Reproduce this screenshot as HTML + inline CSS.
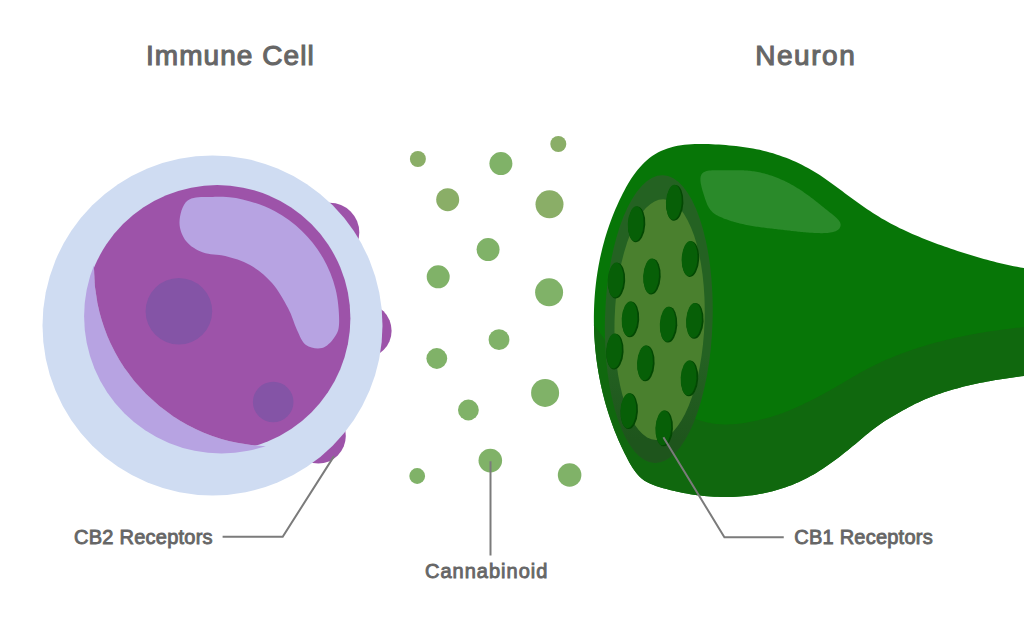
<!DOCTYPE html>
<html><head><meta charset="utf-8"><style>
html,body{margin:0;padding:0;background:#fff;width:1024px;height:640px;overflow:hidden}
svg{display:block}
text{font-family:"Liberation Sans",sans-serif;font-weight:normal;fill:#666666;stroke:#666666}
</style></head><body>
<svg width="1024" height="640" viewBox="0 0 1024 640">
<circle cx="329.7" cy="232.4" r="29.6" fill="#9d53a9"/>
<circle cx="364.2" cy="330.7" r="27.4" fill="#9d53a9"/>
<circle cx="318.3" cy="436.0" r="27.5" fill="#9d53a9"/>
<circle cx="212.5" cy="325.5" r="170" fill="#cfdcf2"/>
<clipPath id="outB"><path fill-rule="evenodd" clip-rule="evenodd" d="M0,0 H1024 V640 H0Z M271.8,268.4 m-177.8,0 a177.8,177.8 0 1,0 355.6,0 a177.8,177.8 0 1,0 -355.6,0Z"/></clipPath>
<clipPath id="inB"><circle cx="271.8" cy="268.4" r="177.8"/></clipPath>
<circle cx="221.4" cy="316.2" r="137.3" fill="#b7a3e2" clip-path="url(#outB)"/>
<circle cx="217.2" cy="318.3" r="133.2" fill="#9d53a9" clip-path="url(#inB)"/>
<path d="M179.5,222.0 C179.7,215.2 182.1,204.6 187.7,200.4 C193.3,196.2 203.8,197.0 212.9,196.9 C222.1,196.7 232.3,197.1 242.6,199.5 C252.8,201.8 264.6,205.8 274.5,211.1 C284.4,216.3 293.9,223.3 301.9,231.0 C310.0,238.8 317.3,248.1 322.9,257.8 C328.5,267.5 332.9,278.4 335.6,289.3 C338.3,300.2 339.4,314.9 339.1,323.1 C338.9,331.2 336.9,333.8 334.0,338.0 C331.1,342.2 326.7,346.8 322.0,348.0 C317.3,349.2 310.2,348.0 306.0,345.0 C301.8,342.0 300.0,336.2 297.0,330.0 C294.0,323.8 292.2,315.8 288.0,308.0 C283.8,300.2 278.3,290.2 272.0,283.0 C265.7,275.8 257.8,269.5 250.0,265.0 C242.2,260.5 233.1,258.1 225.3,256.0 C217.5,253.9 209.6,255.0 203.1,252.5 C196.6,250.0 190.2,246.3 186.2,241.2 C182.3,236.2 179.3,228.8 179.5,222.0Z" fill="#b7a3e2"/>
<circle cx="178.9" cy="311.2" r="33.3" fill="#8454a6"/>
<circle cx="273.2" cy="402" r="20.3" fill="#8454a6"/>
<circle cx="417.9" cy="159" r="8" fill="#8aae67"/>
<circle cx="500.9" cy="163.6" r="11.5" fill="#80b268"/>
<circle cx="558.3" cy="144" r="8" fill="#8aae67"/>
<circle cx="447.7" cy="199.7" r="11.5" fill="#8aae67"/>
<circle cx="549.5" cy="204.3" r="14" fill="#8aae67"/>
<circle cx="488.1" cy="249.6" r="11.5" fill="#80b268"/>
<circle cx="438.2" cy="276.8" r="11.5" fill="#80b268"/>
<circle cx="549.1" cy="292.3" r="14" fill="#80b268"/>
<circle cx="499" cy="339.7" r="10.4" fill="#80b268"/>
<circle cx="436.8" cy="358.5" r="10.4" fill="#80b268"/>
<circle cx="545.1" cy="392.9" r="14" fill="#80b268"/>
<circle cx="468.4" cy="410" r="10.4" fill="#80b268"/>
<circle cx="490.3" cy="460.6" r="11.8" fill="#80b268"/>
<circle cx="417.2" cy="476" r="7.9" fill="#80b268"/>
<circle cx="569.6" cy="475" r="11.8" fill="#80b268"/>
<path d="M593.88,319.92 L593.88,316.48 L593.93,313.04 L594.01,309.61 L594.13,306.17 L594.29,302.74 L594.49,299.32 L594.72,295.89 L595.00,292.47 L595.32,289.06 L595.67,285.65 L596.07,282.24 L596.50,278.85 L596.98,275.45 L597.50,272.06 L598.06,268.68 L598.66,265.31 L599.30,261.94 L599.98,258.58 L600.70,255.23 L601.47,251.89 L602.28,248.56 L603.13,245.23 L604.03,241.91 L604.96,238.61 L605.94,235.31 L606.97,232.02 L608.04,228.75 L609.15,225.48 L610.31,222.23 L611.51,218.99 L612.76,215.76 L614.05,212.54 L615.39,209.34 L616.77,206.15 L618.20,202.97 L619.67,199.81 L621.19,196.66 L622.76,193.52 L624.38,190.41 L626.05,187.33 L627.78,184.29 L629.58,181.29 L631.45,178.36 L633.39,175.49 L635.41,172.70 L637.51,170.00 L639.70,167.39 L641.99,164.89 L644.37,162.50 L646.86,160.23 L649.45,158.10 L652.15,156.10 L654.97,154.26 L657.91,152.58 L660.98,151.06 L664.16,149.71 L667.44,148.53 L670.79,147.50 L674.20,146.61 L677.63,145.87 L681.07,145.26 L684.51,144.78 L687.95,144.41 L691.39,144.14 L694.83,143.97 L698.27,143.89 L701.70,143.88 L705.14,143.94 L708.57,144.05 L712.01,144.20 L715.44,144.40 L718.87,144.61 L722.30,144.85 L725.73,145.11 L729.15,145.40 L732.57,145.72 L735.99,146.07 L739.40,146.46 L742.81,146.90 L746.21,147.38 L749.60,147.92 L752.98,148.51 L756.36,149.16 L759.72,149.87 L763.07,150.65 L766.41,151.49 L769.74,152.39 L773.04,153.36 L776.33,154.39 L779.61,155.48 L782.86,156.63 L786.09,157.84 L789.29,159.12 L792.48,160.45 L795.63,161.84 L798.76,163.30 L801.86,164.81 L804.92,166.38 L807.96,168.01 L810.96,169.69 L813.93,171.43 L816.86,173.23 L819.75,175.08 L822.61,176.98 L825.45,178.93 L828.26,180.90 L831.05,182.91 L833.82,184.94 L836.59,186.99 L839.34,189.04 L842.10,191.10 L844.85,193.16 L847.61,195.22 L850.37,197.26 L853.15,199.29 L855.93,201.31 L858.72,203.31 L861.52,205.29 L864.34,207.25 L867.18,209.19 L870.03,211.09 L872.90,212.97 L875.79,214.81 L878.70,216.61 L881.64,218.38 L884.61,220.10 L887.60,221.78 L890.61,223.43 L893.65,225.03 L896.70,226.60 L899.78,228.13 L902.88,229.62 L906.00,231.08 L909.14,232.51 L912.29,233.91 L915.46,235.28 L918.64,236.62 L921.83,237.93 L925.03,239.21 L928.25,240.48 L931.47,241.72 L934.70,242.93 L937.94,244.13 L941.19,245.31 L944.44,246.47 L947.69,247.61 L950.95,248.74 L954.21,249.84 L957.47,250.93 L960.75,252.00 L964.02,253.05 L967.30,254.07 L970.58,255.08 L973.87,256.07 L977.16,257.04 L980.46,257.99 L983.76,258.91 L987.07,259.81 L990.38,260.70 L993.69,261.56 L997.01,262.39 L1000.33,263.21 L1003.65,264.00 L1006.99,264.76 L1010.33,265.49 L1013.68,266.19 L1017.04,266.85 L1020.42,267.46 L1023.81,268.03 L1027.21,268.55 L1030.64,269.02 L1034.09,269.42 L1037.56,269.77 L1041.05,270.05 L1044.57,270.26 L1048.12,270.40 L1051.70,270.47 L1055.29,270.48 L1058.88,270.49 L1062.44,270.55 L1065.94,270.73 L1069.36,271.08 L1072.67,271.64 L1075.84,272.49 L1078.85,273.68 L1081.68,275.26 L1084.31,277.22 L1086.74,279.56 L1088.97,282.23 L1091.01,285.20 L1092.84,288.45 L1094.48,291.96 L1095.92,295.67 L1097.16,299.58 L1098.20,303.65 L1099.04,307.84 L1099.68,312.14 L1100.11,316.51 L1100.35,320.92 L1100.39,325.34 L1100.22,329.74 L1099.85,334.10 L1099.28,338.38 L1098.51,342.56 L1097.53,346.60 L1096.35,350.48 L1094.97,354.16 L1093.38,357.62 L1091.59,360.83 L1089.59,363.76 L1087.39,366.38 L1084.99,368.65 L1082.37,370.56 L1079.56,372.07 L1076.54,373.17 L1073.35,373.91 L1070.02,374.36 L1066.57,374.57 L1063.04,374.61 L1059.45,374.54 L1055.83,374.41 L1052.22,374.28 L1048.64,374.23 L1045.10,374.26 L1041.61,374.39 L1038.15,374.59 L1034.71,374.85 L1031.30,375.17 L1027.90,375.52 L1024.51,375.91 L1021.12,376.32 L1017.73,376.75 L1014.34,377.19 L1010.96,377.66 L1007.57,378.14 L1004.18,378.64 L1000.79,379.17 L997.41,379.72 L994.02,380.29 L990.63,380.89 L987.25,381.51 L983.87,382.15 L980.48,382.82 L977.10,383.52 L973.73,384.25 L970.36,385.01 L967.00,385.80 L963.64,386.62 L960.30,387.48 L956.96,388.38 L953.64,389.31 L950.33,390.28 L947.03,391.29 L943.75,392.34 L940.49,393.43 L937.24,394.57 L934.01,395.75 L930.81,396.98 L927.62,398.26 L924.46,399.58 L921.32,400.96 L918.21,402.39 L915.13,403.87 L912.07,405.41 L909.04,407.00 L906.03,408.64 L903.03,410.31 L900.03,412.01 L897.02,413.72 L894.02,415.45 L891.02,417.21 L888.05,419.01 L885.11,420.84 L882.22,422.73 L879.38,424.68 L876.61,426.68 L873.88,428.73 L871.20,430.82 L868.54,432.95 L865.91,435.11 L863.29,437.28 L860.68,439.48 L858.06,441.68 L855.44,443.89 L852.79,446.09 L850.13,448.28 L847.45,450.46 L844.75,452.62 L842.02,454.77 L839.28,456.89 L836.52,458.99 L833.73,461.06 L830.92,463.09 L828.09,465.09 L825.24,467.05 L822.35,468.96 L819.45,470.82 L816.51,472.64 L813.55,474.39 L810.56,476.09 L807.54,477.73 L804.50,479.30 L801.42,480.80 L798.31,482.23 L795.18,483.59 L792.02,484.88 L788.83,486.10 L785.62,487.25 L782.38,488.34 L779.12,489.36 L775.84,490.31 L772.54,491.19 L769.22,492.01 L765.89,492.77 L762.53,493.46 L759.16,494.09 L755.78,494.65 L752.38,495.16 L748.98,495.60 L745.56,495.97 L742.13,496.29 L738.69,496.55 L735.25,496.75 L731.80,496.89 L728.34,496.97 L724.88,496.99 L721.42,496.96 L717.96,496.87 L714.49,496.72 L711.03,496.52 L707.57,496.27 L704.11,495.96 L700.66,495.59 L697.21,495.17 L693.77,494.70 L690.34,494.18 L686.92,493.61 L683.50,492.98 L680.10,492.31 L676.71,491.59 L673.34,490.81 L669.98,489.99 L666.63,489.12 L663.31,488.21 L660.00,487.25 L656.72,486.22 L653.51,485.08 L650.40,483.80 L647.40,482.33 L644.56,480.64 L641.89,478.69 L639.42,476.46 L637.14,473.98 L635.01,471.29 L633.02,468.44 L631.14,465.45 L629.37,462.38 L627.68,459.25 L626.05,456.12 L624.47,452.98 L622.93,449.84 L621.45,446.71 L620.01,443.57 L618.62,440.42 L617.27,437.26 L615.96,434.10 L614.69,430.92 L613.46,427.73 L612.27,424.53 L611.11,421.30 L610.00,418.07 L608.92,414.81 L607.88,411.54 L606.87,408.26 L605.90,404.97 L604.97,401.66 L604.08,398.34 L603.23,395.01 L602.41,391.66 L601.63,388.31 L600.88,384.95 L600.18,381.57 L599.51,378.19 L598.88,374.80 L598.28,371.40 L597.73,368.00 L597.21,364.59 L596.73,361.17 L596.28,357.75 L595.88,354.32 L595.51,350.89 L595.18,347.46 L594.88,344.02 L594.63,340.58 L594.41,337.14 L594.23,333.69 L594.08,330.25 L593.98,326.81 L593.91,323.36Z" fill="#077607"/>
<clipPath id="nb"><path d="M593.88,319.92 L593.88,316.48 L593.93,313.04 L594.01,309.61 L594.13,306.17 L594.29,302.74 L594.49,299.32 L594.72,295.89 L595.00,292.47 L595.32,289.06 L595.67,285.65 L596.07,282.24 L596.50,278.85 L596.98,275.45 L597.50,272.06 L598.06,268.68 L598.66,265.31 L599.30,261.94 L599.98,258.58 L600.70,255.23 L601.47,251.89 L602.28,248.56 L603.13,245.23 L604.03,241.91 L604.96,238.61 L605.94,235.31 L606.97,232.02 L608.04,228.75 L609.15,225.48 L610.31,222.23 L611.51,218.99 L612.76,215.76 L614.05,212.54 L615.39,209.34 L616.77,206.15 L618.20,202.97 L619.67,199.81 L621.19,196.66 L622.76,193.52 L624.38,190.41 L626.05,187.33 L627.78,184.29 L629.58,181.29 L631.45,178.36 L633.39,175.49 L635.41,172.70 L637.51,170.00 L639.70,167.39 L641.99,164.89 L644.37,162.50 L646.86,160.23 L649.45,158.10 L652.15,156.10 L654.97,154.26 L657.91,152.58 L660.98,151.06 L664.16,149.71 L667.44,148.53 L670.79,147.50 L674.20,146.61 L677.63,145.87 L681.07,145.26 L684.51,144.78 L687.95,144.41 L691.39,144.14 L694.83,143.97 L698.27,143.89 L701.70,143.88 L705.14,143.94 L708.57,144.05 L712.01,144.20 L715.44,144.40 L718.87,144.61 L722.30,144.85 L725.73,145.11 L729.15,145.40 L732.57,145.72 L735.99,146.07 L739.40,146.46 L742.81,146.90 L746.21,147.38 L749.60,147.92 L752.98,148.51 L756.36,149.16 L759.72,149.87 L763.07,150.65 L766.41,151.49 L769.74,152.39 L773.04,153.36 L776.33,154.39 L779.61,155.48 L782.86,156.63 L786.09,157.84 L789.29,159.12 L792.48,160.45 L795.63,161.84 L798.76,163.30 L801.86,164.81 L804.92,166.38 L807.96,168.01 L810.96,169.69 L813.93,171.43 L816.86,173.23 L819.75,175.08 L822.61,176.98 L825.45,178.93 L828.26,180.90 L831.05,182.91 L833.82,184.94 L836.59,186.99 L839.34,189.04 L842.10,191.10 L844.85,193.16 L847.61,195.22 L850.37,197.26 L853.15,199.29 L855.93,201.31 L858.72,203.31 L861.52,205.29 L864.34,207.25 L867.18,209.19 L870.03,211.09 L872.90,212.97 L875.79,214.81 L878.70,216.61 L881.64,218.38 L884.61,220.10 L887.60,221.78 L890.61,223.43 L893.65,225.03 L896.70,226.60 L899.78,228.13 L902.88,229.62 L906.00,231.08 L909.14,232.51 L912.29,233.91 L915.46,235.28 L918.64,236.62 L921.83,237.93 L925.03,239.21 L928.25,240.48 L931.47,241.72 L934.70,242.93 L937.94,244.13 L941.19,245.31 L944.44,246.47 L947.69,247.61 L950.95,248.74 L954.21,249.84 L957.47,250.93 L960.75,252.00 L964.02,253.05 L967.30,254.07 L970.58,255.08 L973.87,256.07 L977.16,257.04 L980.46,257.99 L983.76,258.91 L987.07,259.81 L990.38,260.70 L993.69,261.56 L997.01,262.39 L1000.33,263.21 L1003.65,264.00 L1006.99,264.76 L1010.33,265.49 L1013.68,266.19 L1017.04,266.85 L1020.42,267.46 L1023.81,268.03 L1027.21,268.55 L1030.64,269.02 L1034.09,269.42 L1037.56,269.77 L1041.05,270.05 L1044.57,270.26 L1048.12,270.40 L1051.70,270.47 L1055.29,270.48 L1058.88,270.49 L1062.44,270.55 L1065.94,270.73 L1069.36,271.08 L1072.67,271.64 L1075.84,272.49 L1078.85,273.68 L1081.68,275.26 L1084.31,277.22 L1086.74,279.56 L1088.97,282.23 L1091.01,285.20 L1092.84,288.45 L1094.48,291.96 L1095.92,295.67 L1097.16,299.58 L1098.20,303.65 L1099.04,307.84 L1099.68,312.14 L1100.11,316.51 L1100.35,320.92 L1100.39,325.34 L1100.22,329.74 L1099.85,334.10 L1099.28,338.38 L1098.51,342.56 L1097.53,346.60 L1096.35,350.48 L1094.97,354.16 L1093.38,357.62 L1091.59,360.83 L1089.59,363.76 L1087.39,366.38 L1084.99,368.65 L1082.37,370.56 L1079.56,372.07 L1076.54,373.17 L1073.35,373.91 L1070.02,374.36 L1066.57,374.57 L1063.04,374.61 L1059.45,374.54 L1055.83,374.41 L1052.22,374.28 L1048.64,374.23 L1045.10,374.26 L1041.61,374.39 L1038.15,374.59 L1034.71,374.85 L1031.30,375.17 L1027.90,375.52 L1024.51,375.91 L1021.12,376.32 L1017.73,376.75 L1014.34,377.19 L1010.96,377.66 L1007.57,378.14 L1004.18,378.64 L1000.79,379.17 L997.41,379.72 L994.02,380.29 L990.63,380.89 L987.25,381.51 L983.87,382.15 L980.48,382.82 L977.10,383.52 L973.73,384.25 L970.36,385.01 L967.00,385.80 L963.64,386.62 L960.30,387.48 L956.96,388.38 L953.64,389.31 L950.33,390.28 L947.03,391.29 L943.75,392.34 L940.49,393.43 L937.24,394.57 L934.01,395.75 L930.81,396.98 L927.62,398.26 L924.46,399.58 L921.32,400.96 L918.21,402.39 L915.13,403.87 L912.07,405.41 L909.04,407.00 L906.03,408.64 L903.03,410.31 L900.03,412.01 L897.02,413.72 L894.02,415.45 L891.02,417.21 L888.05,419.01 L885.11,420.84 L882.22,422.73 L879.38,424.68 L876.61,426.68 L873.88,428.73 L871.20,430.82 L868.54,432.95 L865.91,435.11 L863.29,437.28 L860.68,439.48 L858.06,441.68 L855.44,443.89 L852.79,446.09 L850.13,448.28 L847.45,450.46 L844.75,452.62 L842.02,454.77 L839.28,456.89 L836.52,458.99 L833.73,461.06 L830.92,463.09 L828.09,465.09 L825.24,467.05 L822.35,468.96 L819.45,470.82 L816.51,472.64 L813.55,474.39 L810.56,476.09 L807.54,477.73 L804.50,479.30 L801.42,480.80 L798.31,482.23 L795.18,483.59 L792.02,484.88 L788.83,486.10 L785.62,487.25 L782.38,488.34 L779.12,489.36 L775.84,490.31 L772.54,491.19 L769.22,492.01 L765.89,492.77 L762.53,493.46 L759.16,494.09 L755.78,494.65 L752.38,495.16 L748.98,495.60 L745.56,495.97 L742.13,496.29 L738.69,496.55 L735.25,496.75 L731.80,496.89 L728.34,496.97 L724.88,496.99 L721.42,496.96 L717.96,496.87 L714.49,496.72 L711.03,496.52 L707.57,496.27 L704.11,495.96 L700.66,495.59 L697.21,495.17 L693.77,494.70 L690.34,494.18 L686.92,493.61 L683.50,492.98 L680.10,492.31 L676.71,491.59 L673.34,490.81 L669.98,489.99 L666.63,489.12 L663.31,488.21 L660.00,487.25 L656.72,486.22 L653.51,485.08 L650.40,483.80 L647.40,482.33 L644.56,480.64 L641.89,478.69 L639.42,476.46 L637.14,473.98 L635.01,471.29 L633.02,468.44 L631.14,465.45 L629.37,462.38 L627.68,459.25 L626.05,456.12 L624.47,452.98 L622.93,449.84 L621.45,446.71 L620.01,443.57 L618.62,440.42 L617.27,437.26 L615.96,434.10 L614.69,430.92 L613.46,427.73 L612.27,424.53 L611.11,421.30 L610.00,418.07 L608.92,414.81 L607.88,411.54 L606.87,408.26 L605.90,404.97 L604.97,401.66 L604.08,398.34 L603.23,395.01 L602.41,391.66 L601.63,388.31 L600.88,384.95 L600.18,381.57 L599.51,378.19 L598.88,374.80 L598.28,371.40 L597.73,368.00 L597.21,364.59 L596.73,361.17 L596.28,357.75 L595.88,354.32 L595.51,350.89 L595.18,347.46 L594.88,344.02 L594.63,340.58 L594.41,337.14 L594.23,333.69 L594.08,330.25 L593.98,326.81 L593.91,323.36Z"/></clipPath>
<path d="M1079.98,323.05 L1078.12,323.14 L1076.27,323.23 L1074.41,323.33 L1072.55,323.42 L1070.69,323.52 L1068.84,323.63 L1066.98,323.73 L1065.12,323.84 L1063.26,323.95 L1061.40,324.06 L1059.54,324.18 L1057.68,324.30 L1055.82,324.42 L1053.96,324.55 L1052.10,324.68 L1050.23,324.81 L1048.37,324.94 L1046.51,325.08 L1044.65,325.23 L1042.79,325.37 L1040.93,325.52 L1039.07,325.68 L1037.21,325.84 L1035.35,326.00 L1033.49,326.16 L1031.62,326.34 L1029.76,326.51 L1027.90,326.69 L1026.04,326.87 L1024.19,327.06 L1022.33,327.25 L1020.47,327.45 L1018.61,327.65 L1016.75,327.85 L1014.90,328.06 L1013.04,328.28 L1011.18,328.50 L1009.33,328.72 L1007.47,328.95 L1005.62,329.19 L1003.77,329.43 L1001.92,329.67 L1000.06,329.92 L998.21,330.18 L996.36,330.44 L994.52,330.70 L992.67,330.98 L990.82,331.26 L988.97,331.54 L987.13,331.83 L985.29,332.12 L983.44,332.43 L981.60,332.73 L979.76,333.05 L977.92,333.37 L976.09,333.69 L974.25,334.02 L972.41,334.36 L970.58,334.71 L968.75,335.06 L966.92,335.42 L965.09,335.78 L963.26,336.16 L961.43,336.53 L959.61,336.92 L957.78,337.31 L955.96,337.71 L954.14,338.12 L952.32,338.53 L950.51,338.95 L948.69,339.38 L946.88,339.82 L945.07,340.26 L943.26,340.71 L941.45,341.17 L939.65,341.63 L937.84,342.11 L936.04,342.59 L934.24,343.08 L932.45,343.58 L930.65,344.08 L928.86,344.60 L927.07,345.12 L925.28,345.65 L923.49,346.19 L921.71,346.73 L919.93,347.29 L918.15,347.85 L916.37,348.43 L914.60,349.01 L912.83,349.60 L911.06,350.20 L909.30,350.81 L907.54,351.42 L905.78,352.05 L904.03,352.69 L902.28,353.34 L900.53,353.99 L898.79,354.66 L897.05,355.33 L895.32,356.02 L893.59,356.71 L891.86,357.42 L890.14,358.14 L888.42,358.86 L886.71,359.60 L885.00,360.35 L883.30,361.10 L881.60,361.87 L879.91,362.65 L878.22,363.44 L876.54,364.24 L874.86,365.06 L873.19,365.88 L871.52,366.72 L869.86,367.56 L868.21,368.42 L866.56,369.29 L864.91,370.17 L863.28,371.06 L861.64,371.96 L860.01,372.87 L858.39,373.79 L856.77,374.71 L855.15,375.64 L853.53,376.58 L851.92,377.52 L850.30,378.47 L848.69,379.41 L847.08,380.36 L845.47,381.31 L843.86,382.26 L842.25,383.22 L840.64,384.16 L839.02,385.11 L837.41,386.06 L835.79,387.00 L834.17,387.93 L832.55,388.86 L830.92,389.79 L829.29,390.71 L827.65,391.62 L826.01,392.52 L824.37,393.41 L822.72,394.30 L821.07,395.18 L819.41,396.06 L817.76,396.92 L816.10,397.78 L814.43,398.63 L812.77,399.48 L811.10,400.31 L809.43,401.14 L807.76,401.97 L806.09,402.78 L804.41,403.59 L802.74,404.39 L801.06,405.19 L799.38,405.97 L797.70,406.75 L796.01,407.51 L794.32,408.27 L792.63,409.01 L790.93,409.73 L789.23,410.45 L787.52,411.15 L785.80,411.83 L784.08,412.50 L782.35,413.15 L780.62,413.78 L778.87,414.39 L777.12,414.98 L775.36,415.56 L773.60,416.11 L771.82,416.65 L770.04,417.18 L768.24,417.68 L766.44,418.18 L764.63,418.65 L762.82,419.12 L760.99,419.57 L759.16,420.01 L757.32,420.43 L755.47,420.84 L753.62,421.24 L751.76,421.61 L749.89,421.97 L748.02,422.31 L746.15,422.63 L744.27,422.93 L742.39,423.21 L740.51,423.46 L738.63,423.68 L736.75,423.88 L734.87,424.04 L733.00,424.18 L731.12,424.29 L729.25,424.37 L727.38,424.41 L725.51,424.42 L723.65,424.39 L721.80,424.32 L719.95,424.21 L718.11,424.07 L716.27,423.89 L714.45,423.66 L712.63,423.40 L710.82,423.10 L709.01,422.77 L707.22,422.40 L705.43,422.00 L703.64,421.56 L701.87,421.09 L700.10,420.58 L698.34,420.05 L696.59,419.48 L694.85,418.88 L693.11,418.26 L691.38,417.60 L689.66,416.92 L687.95,416.21 L686.25,415.47 L684.55,414.71 L682.86,413.92 L681.18,413.11 L679.51,412.28 L677.84,411.42 L676.19,410.54 L674.54,409.64 L672.90,408.72 L671.26,407.78 L669.64,406.82 L668.03,405.85 L666.42,404.85 L664.82,403.84 L663.23,402.82 L661.65,401.78 L660.08,400.72 L658.51,399.65 L656.96,398.57 L655.41,397.48 L653.88,396.37 L652.35,395.25 L650.84,394.11 L649.34,392.96 L647.85,391.79 L646.38,390.61 L644.91,389.42 L643.47,388.21 L642.04,386.98 L640.62,385.74 L639.22,384.49 L637.84,383.22 L636.47,381.93 L635.12,380.63 L633.79,379.31 L632.48,377.97 L631.19,376.62 L629.92,375.25 L628.67,373.87 L627.45,372.46 L626.24,371.04 L625.06,369.61 L623.90,368.15 L622.76,366.68 L621.64,365.20 L620.54,363.70 L619.46,362.19 L618.39,360.67 L617.34,359.13 L616.29,357.59 L615.26,356.05 L614.23,354.49 L613.21,352.93 L612.20,351.37 L611.19,349.80 L610.18,348.24 L609.17,346.67 L608.16,345.10 L607.15,343.54 L606.13,341.98 L605.10,340.42 L604.07,338.88 L603.02,337.33 L601.97,335.80 L600.90,334.28 L599.82,332.77 L598.72,331.27 L597.60,329.78 L596.46,328.31 L595.30,326.86 L594.12,325.42 L592.92,324.00 L591.68,322.60 L590.42,321.22 L589.13,319.86 L587.81,318.53 L586.45,317.22 L585.06,315.94 L560,330 L560,540 L1080,540Z" fill="#10680e" clip-path="url(#nb)"/>
<path d="M702.43,173.24 L703.24,172.55 L704.20,171.98 L705.29,171.51 L706.49,171.12 L707.79,170.82 L709.18,170.59 L710.65,170.43 L712.17,170.31 L713.74,170.24 L715.35,170.21 L716.97,170.20 L718.60,170.21 L720.23,170.23 L721.83,170.24 L723.40,170.25 L724.95,170.25 L726.48,170.25 L727.98,170.24 L729.45,170.24 L730.91,170.23 L732.35,170.22 L733.77,170.22 L735.17,170.22 L736.56,170.22 L737.93,170.23 L739.29,170.25 L740.65,170.28 L741.99,170.32 L743.32,170.37 L744.65,170.43 L745.97,170.50 L747.29,170.59 L748.61,170.70 L749.93,170.83 L751.25,170.97 L752.57,171.14 L753.89,171.33 L755.22,171.54 L756.55,171.77 L757.89,172.02 L759.22,172.29 L760.56,172.58 L761.90,172.90 L763.23,173.23 L764.57,173.58 L765.91,173.95 L767.25,174.34 L768.58,174.74 L769.91,175.17 L771.24,175.61 L772.57,176.06 L773.89,176.54 L775.20,177.03 L776.52,177.53 L777.82,178.05 L779.12,178.59 L780.42,179.14 L781.70,179.70 L782.98,180.28 L784.25,180.87 L785.52,181.48 L786.77,182.09 L788.01,182.72 L789.24,183.36 L790.47,184.01 L791.68,184.67 L792.87,185.35 L794.06,186.03 L795.24,186.73 L796.41,187.43 L797.56,188.14 L798.71,188.87 L799.85,189.60 L800.98,190.34 L802.11,191.10 L803.23,191.86 L804.35,192.63 L805.46,193.41 L806.57,194.20 L807.67,195.00 L808.77,195.81 L809.87,196.62 L810.97,197.45 L812.07,198.28 L813.17,199.12 L814.27,199.97 L815.37,200.83 L816.48,201.70 L817.59,202.57 L818.70,203.45 L819.81,204.34 L820.93,205.24 L822.06,206.14 L823.20,207.05 L824.34,207.97 L825.49,208.89 L826.65,209.82 L827.81,210.76 L828.99,211.70 L830.18,212.66 L831.38,213.61 L832.59,214.58 L833.78,215.55 L834.94,216.52 L836.05,217.50 L837.08,218.49 L838.03,219.49 L838.86,220.49 L839.55,221.49 L840.10,222.50 L840.47,223.52 L840.65,224.54 L840.62,225.57 L840.40,226.57 L840.00,227.54 L839.44,228.44 L838.72,229.25 L837.86,229.97 L836.88,230.60 L835.79,231.15 L834.58,231.62 L833.28,232.01 L831.90,232.34 L830.44,232.60 L828.92,232.80 L827.34,232.95 L825.73,233.06 L824.08,233.12 L822.41,233.15 L820.72,233.14 L819.04,233.11 L817.37,233.06 L815.72,232.99 L814.10,232.91 L812.51,232.83 L810.96,232.73 L809.44,232.63 L807.95,232.53 L806.48,232.42 L805.05,232.30 L803.63,232.18 L802.24,232.05 L800.86,231.92 L799.50,231.78 L798.16,231.64 L796.83,231.50 L795.52,231.36 L794.21,231.21 L792.91,231.06 L791.61,230.91 L790.32,230.76 L789.02,230.60 L787.73,230.45 L786.44,230.30 L785.13,230.14 L783.83,229.99 L782.51,229.84 L781.19,229.69 L779.85,229.54 L778.51,229.39 L777.17,229.24 L775.81,229.09 L774.45,228.94 L773.08,228.78 L771.71,228.62 L770.33,228.46 L768.95,228.30 L767.56,228.14 L766.18,227.97 L764.78,227.79 L763.39,227.61 L761.99,227.43 L760.59,227.24 L759.19,227.04 L757.78,226.84 L756.38,226.63 L754.98,226.41 L753.57,226.18 L752.17,225.95 L750.77,225.71 L749.37,225.46 L747.97,225.20 L746.57,224.93 L745.18,224.64 L743.79,224.35 L742.41,224.05 L741.03,223.73 L739.65,223.41 L738.28,223.07 L736.91,222.71 L735.55,222.35 L734.20,221.97 L732.85,221.57 L731.52,221.16 L730.18,220.74 L728.86,220.30 L727.55,219.84 L726.24,219.37 L724.95,218.88 L723.66,218.38 L722.39,217.85 L721.12,217.31 L719.87,216.75 L718.64,216.16 L717.43,215.54 L716.26,214.89 L715.13,214.20 L714.05,213.45 L713.03,212.65 L712.07,211.80 L711.19,210.87 L710.37,209.89 L709.61,208.85 L708.91,207.74 L708.25,206.59 L707.65,205.38 L707.07,204.13 L706.53,202.83 L706.02,201.49 L705.53,200.11 L705.05,198.70 L704.58,197.25 L704.11,195.78 L703.64,194.27 L703.17,192.75 L702.70,191.21 L702.26,189.67 L701.83,188.13 L701.45,186.61 L701.11,185.11 L700.82,183.64 L700.60,182.20 L700.46,180.82 L700.41,179.50 L700.45,178.24 L700.59,177.05 L700.85,175.95 L701.24,174.94 L701.76,174.03Z" fill="#2a8a2a"/>
<linearGradient id="rg" x1="0" y1="0" x2="0" y2="1"><stop offset="0.62" stop-color="#246222"/><stop offset="0.92" stop-color="#1e551c"/></linearGradient>
<ellipse cx="658.8" cy="319.1" rx="53.8" ry="143.9" transform="rotate(1.6 658.8 319.1)" fill="url(#rg)"/>
<ellipse cx="659.6" cy="319.7" rx="45" ry="120.4" transform="rotate(1.8 659.6 319.7)" fill="#4a802e"/>
<g transform="translate(674.2,202.5) rotate(3)"><ellipse cx="0.6" cy="0.3" rx="8.6" ry="17.9" fill="#034803"/><ellipse cx="-0.4" cy="-0.2" rx="7.9" ry="17.5" fill="#075f07"/></g>
<g transform="translate(636.1,224) rotate(3)"><ellipse cx="0.6" cy="0.3" rx="8.6" ry="17.9" fill="#034803"/><ellipse cx="-0.4" cy="-0.2" rx="7.9" ry="17.5" fill="#075f07"/></g>
<g transform="translate(690,258.7) rotate(3)"><ellipse cx="0.6" cy="0.3" rx="8.6" ry="17.9" fill="#034803"/><ellipse cx="-0.4" cy="-0.2" rx="7.9" ry="17.5" fill="#075f07"/></g>
<g transform="translate(616,280.3) rotate(3)"><ellipse cx="0.6" cy="0.3" rx="8.6" ry="17.9" fill="#034803"/><ellipse cx="-0.4" cy="-0.2" rx="7.9" ry="17.5" fill="#075f07"/></g>
<g transform="translate(651.5,276.3) rotate(3)"><ellipse cx="0.6" cy="0.3" rx="8.6" ry="17.9" fill="#034803"/><ellipse cx="-0.4" cy="-0.2" rx="7.9" ry="17.5" fill="#075f07"/></g>
<g transform="translate(630,319.1) rotate(3)"><ellipse cx="0.6" cy="0.3" rx="8.6" ry="17.9" fill="#034803"/><ellipse cx="-0.4" cy="-0.2" rx="7.9" ry="17.5" fill="#075f07"/></g>
<g transform="translate(668.1,324.4) rotate(3)"><ellipse cx="0.6" cy="0.3" rx="8.6" ry="17.9" fill="#034803"/><ellipse cx="-0.4" cy="-0.2" rx="7.9" ry="17.5" fill="#075f07"/></g>
<g transform="translate(694.4,320.6) rotate(3)"><ellipse cx="0.6" cy="0.3" rx="8.6" ry="17.9" fill="#034803"/><ellipse cx="-0.4" cy="-0.2" rx="7.9" ry="17.5" fill="#075f07"/></g>
<g transform="translate(614.4,351.25) rotate(3)"><ellipse cx="0.6" cy="0.3" rx="8.6" ry="17.9" fill="#034803"/><ellipse cx="-0.4" cy="-0.2" rx="7.9" ry="17.5" fill="#075f07"/></g>
<g transform="translate(645.4,363.1) rotate(3)"><ellipse cx="0.6" cy="0.3" rx="8.6" ry="17.9" fill="#034803"/><ellipse cx="-0.4" cy="-0.2" rx="7.9" ry="17.5" fill="#075f07"/></g>
<g transform="translate(689,378.1) rotate(3)"><ellipse cx="0.6" cy="0.3" rx="8.6" ry="17.9" fill="#034803"/><ellipse cx="-0.4" cy="-0.2" rx="7.9" ry="17.5" fill="#075f07"/></g>
<g transform="translate(628.75,410.9) rotate(3)"><ellipse cx="0.6" cy="0.3" rx="8.6" ry="17.9" fill="#034803"/><ellipse cx="-0.4" cy="-0.2" rx="7.9" ry="17.5" fill="#075f07"/></g>
<g transform="translate(663.75,428.1) rotate(3)"><ellipse cx="0.6" cy="0.3" rx="8.6" ry="17.9" fill="#034803"/><ellipse cx="-0.4" cy="-0.2" rx="7.9" ry="17.5" fill="#075f07"/></g>
<polyline points="222.6,536.7 282.7,536.7 334,456.1" fill="none" stroke="#7b7b7b" stroke-width="2"/>
<line x1="490.5" y1="461.25" x2="490.5" y2="555.5" stroke="#7b7b7b" stroke-width="2"/>
<polyline points="783.75,537.2 724.4,537.2 663.4,437.2" fill="none" stroke="#7b7b7b" stroke-width="2"/>
<text x="146.00" y="65.4" font-size="28.0" letter-spacing="1.05" stroke-width="1.1">Immune Cell</text>
<text x="755.20" y="65.3" font-size="28.0" letter-spacing="1.56" stroke-width="1.1">Neuron</text>
<text x="74.00" y="543.6" font-size="20.0" letter-spacing="0.25" stroke-width="0.88">CB2 Receptors</text>
<text x="425.00" y="578.2" font-size="20.0" letter-spacing="1.0" stroke-width="0.88">Cannabinoid</text>
<text x="794.25" y="543.6" font-size="20.0" letter-spacing="0.23" stroke-width="0.88">CB1 Receptors</text>
</svg></body></html>
